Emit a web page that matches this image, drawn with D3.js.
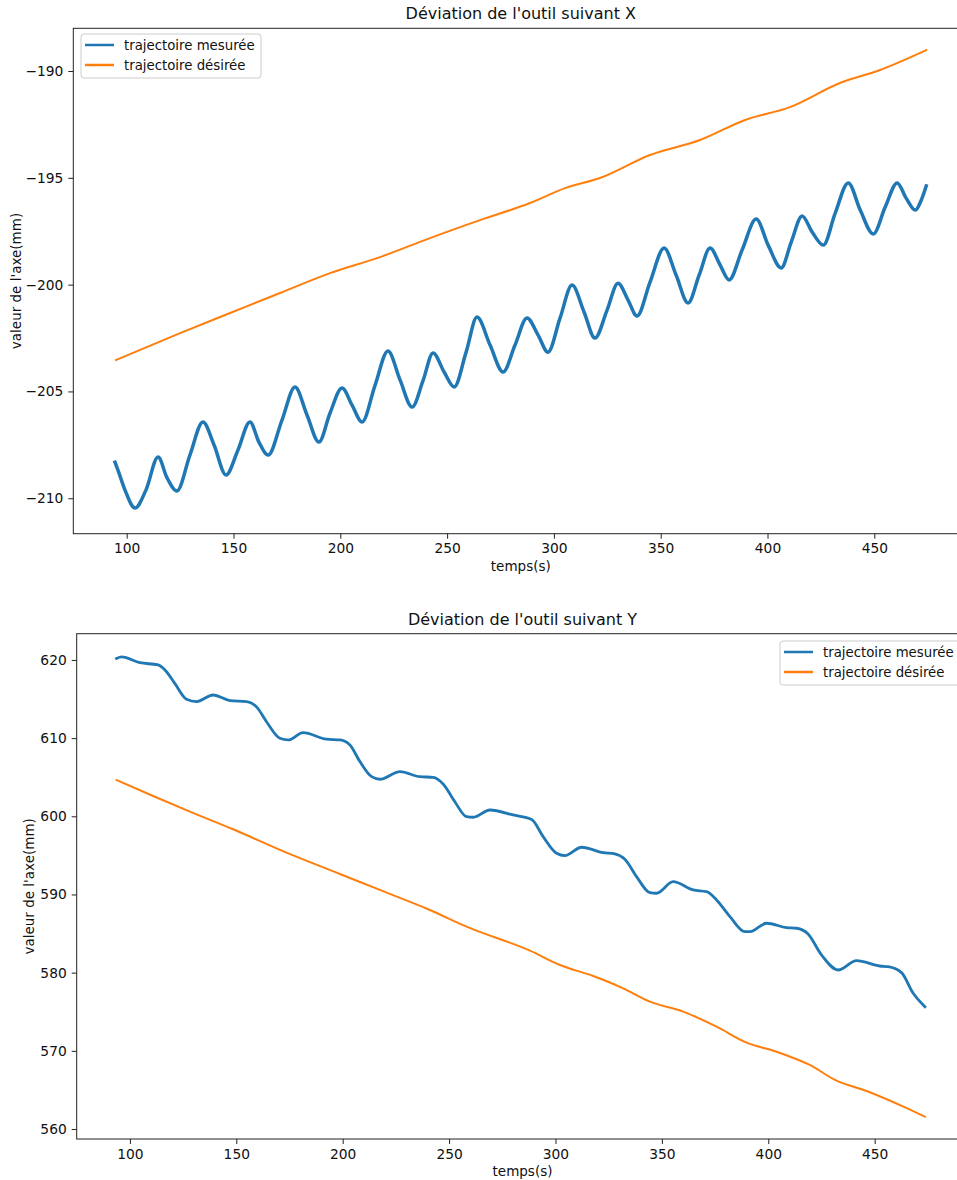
<!DOCTYPE html>
<html>
<head>
<meta charset="utf-8">
<script src="https://cdn.jsdelivr.net/npm/d3@7"></script>
<style>
  html, body { margin: 0; padding: 0; background: #fff; }
  svg { display: block; font-family: "DejaVu Sans", sans-serif; }
</style>
</head>
<body>
<svg id="chart" width="957" height="1180"></svg>
<script>
// ---------- Data ----------
const seriesNames = ["trajectoire mesurée", "trajectoire désirée"];
const xTickValues = [100, 150, 200, 250, 300, 350, 400, 450];
const yTicksX = [-210, -205, -200, -195, -190];
const yTicksY = [560, 570, 580, 590, 600, 610, 620];

// Chart 1 : X deviation
const xMeasT = [94.5, 95.9, 99.2, 103.9, 109.0, 114.7, 118.9, 123.5, 129.6, 135.7, 140.9, 146.5, 152.1, 157.7, 161.9, 166.2, 172.7, 178.8, 184.4, 190.0, 195.2, 200.8, 205.5, 210.2, 216.3, 222.3, 228.0, 233.6, 238.8, 243.4, 248.6, 253.3, 258.9, 264.0, 270.1, 276.2, 281.8, 287.4, 292.6, 297.2, 302.9, 308.5, 314.1, 319.2, 324.9, 330.0, 334.7, 338.9, 345.0, 351.6, 357.2, 362.8, 368.0, 373.1, 377.8, 382.0, 388.1, 394.7, 400.3, 406.4, 411.1, 416.2, 420.9, 426.1, 431.7, 437.8, 443.4, 449.5, 455.1, 460.7, 464.9, 469.2, 472.0, 474.3];
const xMeasV = [-208.31, -208.68, -209.62, -210.46, -209.62, -208.07, -209.05, -209.66, -207.98, -206.43, -207.51, -208.91, -207.74, -206.43, -207.37, -207.98, -206.34, -204.79, -206.10, -207.37, -206.01, -204.84, -205.64, -206.43, -204.70, -203.11, -204.47, -205.73, -204.47, -203.20, -204.09, -204.79, -203.16, -201.52, -202.83, -204.09, -202.83, -201.56, -202.36, -203.16, -201.56, -200.02, -201.28, -202.50, -201.19, -199.93, -200.72, -201.47, -199.88, -198.29, -199.55, -200.86, -199.55, -198.29, -199.08, -199.78, -198.38, -196.93, -198.15, -199.22, -198.01, -196.79, -197.54, -198.15, -196.65, -195.24, -196.51, -197.63, -196.37, -195.24, -195.95, -196.51, -196.04, -195.38];
const xDesT = [95.0, 125.0, 148.4, 171.8, 195.2, 218.6, 242.0, 265.4, 288.8, 305.2, 321.6, 345.0, 368.4, 389.5, 410.5, 433.9, 452.7, 474.3];
const xDesV = [-203.53, -202.27, -201.33, -200.39, -199.46, -198.71, -197.82, -196.98, -196.18, -195.48, -195.01, -193.93, -193.23, -192.29, -191.69, -190.56, -189.95, -189.02];

// Chart 2 : Y deviation
const yMeasT = [93.7, 96.1, 104.7, 113.3, 117.2, 121.1, 126.6, 131.3, 139.1, 147.0, 154.8, 159.5, 164.2, 170.5, 174.4, 181.4, 192.4, 198.7, 203.4, 208.1, 213.6, 217.5, 226.9, 236.3, 242.5, 247.2, 252.7, 258.2, 261.3, 269.2, 280.1, 288.8, 294.2, 300.5, 304.4, 312.3, 322.4, 327.9, 332.6, 338.1, 344.4, 347.5, 355.3, 364.7, 371.0, 375.7, 382.0, 389.0, 391.4, 399.2, 408.6, 413.3, 418.7, 425.0, 432.8, 441.5, 452.4, 456.3, 462.6, 468.1, 473.6];
const yMeasV = [620.2, 620.4, 619.65, 619.36, 618.5, 617.0, 614.97, 614.67, 615.52, 614.8, 614.67, 614.0, 612.1, 609.98, 609.77, 610.7, 609.86, 609.77, 609.13, 607.0, 605.07, 604.74, 605.71, 605.07, 604.99, 604.14, 601.87, 599.95, 599.88, 600.81, 600.17, 599.6, 597.40, 595.27, 594.97, 596.04, 595.35, 595.18, 594.50, 592.28, 590.23, 590.16, 591.64, 590.58, 590.36, 589.30, 587.16, 585.24, 585.24, 586.32, 585.76, 585.68, 584.95, 582.26, 580.34, 581.53, 580.85, 580.76, 580.0, 577.36, 575.65];
const yDesT = [93.7, 110.9, 128.2, 148.5, 173.6, 198.7, 217.5, 241.0, 258.2, 288.0, 302.1, 317.7, 331.8, 344.4, 360.0, 375.7, 389.8, 403.9, 419.5, 432.1, 446.2, 463.5, 473.6];
const yDesV = [604.65, 602.6, 600.6, 598.34, 595.35, 592.62, 590.58, 588.02, 585.88, 582.81, 580.98, 579.57, 578.0, 576.29, 575.01, 573.09, 571.05, 569.89, 568.19, 566.18, 564.86, 562.86, 561.57];

const colors = ["#1f77b4", "#ff7f0e"];

// ---------- Drawing ----------
const svg = d3.select("#chart");
svg.append("rect").attr("width", 957).attr("height", 1180).attr("fill", "#fff");

function drawPanel(cfg) {
  const g = svg.append("g");
  const x = d3.scaleLinear().domain(cfg.xDomain).range([cfg.left, cfg.right]);
  const y = d3.scaleLinear().domain(cfg.yDomain).range([cfg.bottom, cfg.top]);

  const line = d3.line().x(d => x(d[0])).y(d => y(d[1])).curve(d3.curveMonotoneX);
  const meas = cfg.measT.map((t, i) => [t, cfg.measV[i]]);
  const des = cfg.desT.map((t, i) => [t, cfg.desV[i]]);

  g.append("path").datum(meas).attr("d", line)
    .attr("fill", "none").attr("stroke", colors[0]).attr("stroke-width", cfg.measWidth)
    .attr("stroke-linejoin", "round").attr("stroke-linecap", "square");
  g.append("path").datum(des).attr("d", line)
    .attr("fill", "none").attr("stroke", colors[1]).attr("stroke-width", 2)
    .attr("stroke-linejoin", "round").attr("stroke-linecap", "square");

  // spines
  g.append("rect").attr("x", cfg.left).attr("y", cfg.top)
    .attr("width", cfg.right - cfg.left).attr("height", cfg.bottom - cfg.top)
    .attr("fill", "none").attr("stroke", "#222").attr("stroke-width", 1);

  const fmt = d3.format("d");
  const xa = g.append("g").attr("transform", `translate(0,${cfg.bottom})`)
    .call(d3.axisBottom(x).tickValues(xTickValues).tickSize(5).tickPadding(5).tickFormat(fmt));
  const ya = g.append("g").attr("transform", `translate(${cfg.left},0)`)
    .call(d3.axisLeft(y).tickValues(cfg.yTicks).tickSize(5).tickPadding(5).tickFormat(fmt));
  [xa, ya].forEach(a => {
    a.select(".domain").remove();
    a.selectAll(".tick line").attr("stroke", "#222");
    a.selectAll(".tick text").attr("fill", "#111").style("font-size", "13.8px")
      .style("font-family", "DejaVu Sans");
  });

  const cx = (cfg.left + cfg.right) / 2;
  g.append("text").attr("x", cx).attr("y", cfg.top - 9).attr("text-anchor", "middle")
    .style("font-size", "16px").attr("fill", "#111").text(cfg.title);
  g.append("text").attr("x", cx).attr("y", cfg.bottom + 37).attr("text-anchor", "middle")
    .style("font-size", "13.5px").attr("fill", "#111").text("temps(s)");
  g.append("text")
    .attr("transform", `translate(${cfg.ylabelX},${(cfg.top + cfg.bottom) / 2}) rotate(-90)`)
    .attr("text-anchor", "middle").style("font-size", "13.5px").attr("fill", "#111")
    .text("valeur de l'axe(mm)");

  // legend
  const lg = g.append("g").attr("transform", `translate(${cfg.legX},${cfg.legY})`);
  lg.append("rect").attr("x", 0).attr("y", 0).attr("width", 180).attr("height", 44)
    .attr("rx", 3).attr("fill", "#fff").attr("fill-opacity", 0.8)
    .attr("stroke", "#cccccc").attr("stroke-width", 1);
  seriesNames.forEach((name, i) => {
    const yy = 11 + i * 20;
    lg.append("line").attr("x1", 4).attr("x2", 33).attr("y1", yy).attr("y2", yy)
      .attr("stroke", colors[i]).attr("stroke-width", 2.5);
    lg.append("text").attr("x", 43).attr("y", yy + 4.5).style("font-size", "13.3px")
      .attr("fill", "#111").text(name);
  });
}

drawPanel({
  title: "Déviation de l'outil suivant X",
  left: 73.3, right: 968.3, top: 28.3, bottom: 533.7,
  xDomain: [75, 494], yDomain: [-211.66, -188.0], yTicks: yTicksX,
  measT: xMeasT, measV: xMeasV, desT: xDesT, desV: xDesV, measWidth: 3.5,
  ylabelX: 21, legX: 81, legY: 34
});

drawPanel({
  title: "Déviation de l'outil suivant Y",
  left: 76.7, right: 968.3, top: 633.7, bottom: 1139,
  xDomain: [75, 494], yDomain: [558.72, 623.36], yTicks: yTicksY,
  measT: yMeasT, measV: yMeasV, desT: yDesT, desV: yDesV, measWidth: 2.8,
  ylabelX: 34, legX: 780, legY: 641
});
</script>
</body>
</html>
